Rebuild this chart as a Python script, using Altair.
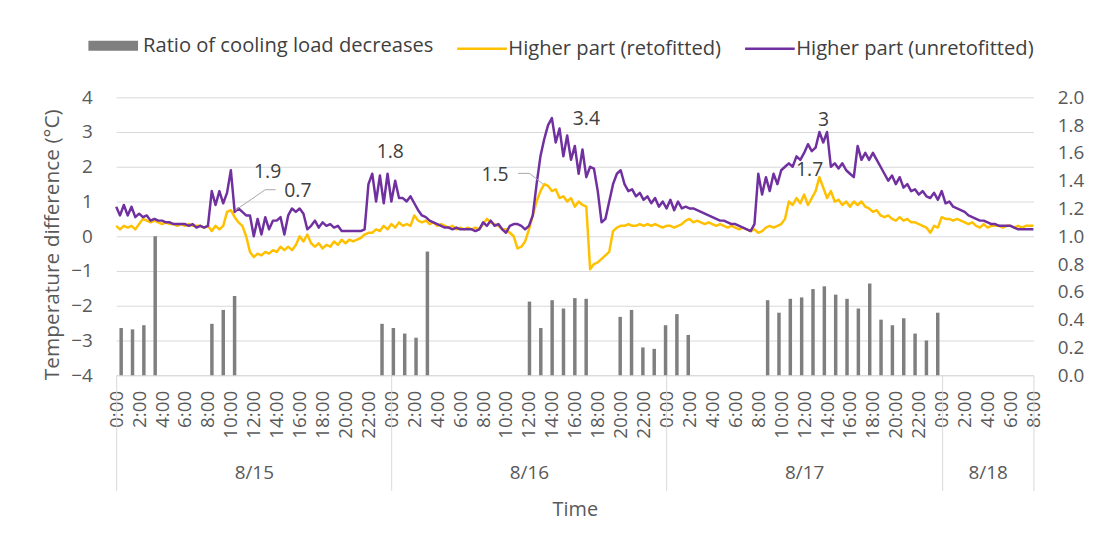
import altair as alt
import pandas as pd

# ---------------- data ----------------
SAMPLES_PER_HOUR = 3  # 20-minute readings, 8/15 0:00 .. 8/18 8:00

unretrofitted = [
    0.85, 0.6, 0.9, 0.6, 0.85, 0.55, 0.65, 0.55, 0.6, 0.45, 0.5, 0.45, 0.45, 0.4, 0.4,
    0.35, 0.35, 0.35, 0.35, 0.3, 0.35, 0.25, 0.3, 0.25, 0.3, 1.3, 0.9, 1.3, 0.95, 1.25,
    1.9, 0.7, 0.8, 0.7, 0.6, 0.6, 0.0, 0.5, 0.05, 0.55, 0.2, 0.45, 0.45, 0.55, 0.05,
    0.6, 0.8, 0.7, 0.8, 0.65, 0.2, 0.3, 0.45, 0.25, 0.4, 0.3, 0.35, 0.25, 0.3, 0.15,
    0.15, 0.15, 0.15, 0.15, 0.15, 0.2, 1.5, 1.8, 1.0, 1.75, 0.95, 1.8, 1.0, 1.6, 1.1,
    1.1, 1.0, 1.15, 0.95, 0.75, 0.6, 0.55, 0.45, 0.4, 0.35, 0.3, 0.25, 0.25, 0.2, 0.25,
    0.2, 0.2, 0.2, 0.2, 0.15, 0.2, 0.4, 0.3, 0.45, 0.3, 0.35, 0.2, 0.1, 0.3, 0.35,
    0.35, 0.3, 0.2, 0.3, 0.6, 1.5, 2.3, 2.8, 3.2, 3.4, 2.7, 3.1, 2.3, 2.9, 2.2,
    2.6, 1.8, 2.5, 1.7, 2.0, 1.95, 1.3, 0.4, 0.5, 1.0, 1.5, 1.8, 1.9, 1.5, 1.3,
    1.35, 1.15, 1.25, 1.05, 1.15, 0.95, 1.1, 0.85, 1.0, 0.8, 1.05, 0.75, 1.0, 0.8, 0.85,
    0.8, 0.8, 0.75, 0.7, 0.65, 0.6, 0.55, 0.5, 0.45, 0.45, 0.4, 0.35, 0.35, 0.3, 0.25,
    0.2, 0.15, 0.35, 1.8, 1.2, 1.7, 1.3, 1.8, 1.5, 1.9, 2.0, 2.1, 2.0, 2.3, 2.2,
    2.4, 2.65, 2.45, 2.55, 3.0, 2.7, 3.0, 2.0, 2.1, 1.95, 2.1, 1.9, 1.8, 1.7, 2.6,
    2.2, 2.4, 2.2, 2.4, 2.2, 2.0, 1.8, 1.6, 1.75, 1.5, 1.7, 1.4, 1.5, 1.3, 1.35,
    1.2, 1.3, 1.15, 1.1, 1.25, 1.05, 1.3, 0.95, 1.0, 0.85, 0.8, 0.75, 0.7, 0.6, 0.55,
    0.5, 0.45, 0.45, 0.4, 0.35, 0.35, 0.3, 0.3, 0.3, 0.3, 0.25, 0.2, 0.2, 0.2, 0.2,
    0.2,
]

retrofitted = [
    0.3, 0.2, 0.3, 0.25, 0.3, 0.2, 0.35, 0.5, 0.45, 0.4, 0.45, 0.4, 0.35, 0.4, 0.35,
    0.35, 0.3, 0.35, 0.3, 0.35, 0.3, 0.3, 0.3, 0.25, 0.3, 0.15, 0.3, 0.2, 0.3, 0.7,
    0.75, 0.55, 0.4, 0.3, 0.0, -0.45, -0.6, -0.5, -0.55, -0.45, -0.5, -0.4, -0.45, -0.3, -0.4,
    -0.3, -0.4, -0.25, 0.0, -0.15, 0.05, -0.2, -0.3, -0.2, -0.35, -0.25, -0.3, -0.15, -0.25, -0.1,
    -0.2, -0.1, -0.15, -0.1, -0.05, 0.05, 0.1, 0.1, 0.2, 0.15, 0.3, 0.2, 0.35, 0.25, 0.4,
    0.3, 0.35, 0.3, 0.6, 0.45, 0.4, 0.45, 0.35, 0.4, 0.3, 0.35, 0.3, 0.25, 0.3, 0.2,
    0.25, 0.2, 0.25, 0.2, 0.25, 0.2, 0.35, 0.5, 0.4, 0.35, 0.3, 0.2, 0.2, 0.1, 0.0,
    -0.35, -0.3, -0.15, 0.2, 0.6, 1.0, 1.3, 1.5, 1.45, 1.3, 1.35, 1.1, 1.15, 1.0, 1.1,
    0.85, 1.0, 0.9, 0.85, -0.95, -0.8, -0.75, -0.65, -0.55, -0.45, 0.15, 0.25, 0.3, 0.3, 0.35,
    0.3, 0.3, 0.35, 0.3, 0.35, 0.3, 0.35, 0.3, 0.25, 0.3, 0.3, 0.25, 0.3, 0.35, 0.45,
    0.5, 0.4, 0.45, 0.4, 0.35, 0.4, 0.35, 0.3, 0.35, 0.3, 0.25, 0.3, 0.25, 0.2, 0.25,
    0.2, 0.15, 0.2, 0.1, 0.15, 0.25, 0.3, 0.25, 0.3, 0.35, 0.5, 1.0, 0.9, 1.1, 0.95,
    1.2, 0.9, 1.1, 1.3, 1.7, 1.4, 1.1, 1.3, 1.0, 1.05, 0.9, 1.0, 0.85, 1.0, 0.9,
    1.0, 0.85, 0.8, 0.7, 0.75, 0.6, 0.55, 0.6, 0.5, 0.45, 0.55, 0.45, 0.5, 0.4, 0.4,
    0.35, 0.3, 0.25, 0.1, 0.3, 0.25, 0.55, 0.5, 0.5, 0.45, 0.5, 0.45, 0.4, 0.35, 0.4,
    0.3, 0.25, 0.35, 0.25, 0.3, 0.3, 0.3, 0.25, 0.3, 0.3, 0.25, 0.3, 0.25, 0.3, 0.3,
    0.3,
]

ratio_hours = [0, 1, 2, 3, 8, 9, 10, 23, 24, 25, 26, 27, 36, 37, 38, 39, 40, 41,
               44, 45, 46, 47, 48, 49, 50, 57, 58, 59, 60, 61, 62, 63, 64, 65,
               66, 67, 68, 69, 70, 71, 72]
ratio_values = [0.34, 0.33, 0.36, 1.0, 0.37, 0.47, 0.57, 0.37, 0.34, 0.30, 0.27, 0.89,
                0.53, 0.34, 0.54, 0.48, 0.555, 0.55, 0.42, 0.47, 0.20, 0.19, 0.36,
                0.44, 0.29, 0.54, 0.45, 0.55, 0.56, 0.62, 0.64, 0.58, 0.55, 0.48,
                0.66, 0.40, 0.36, 0.41, 0.30, 0.25, 0.45]

series_names = ["Ratio of cooling load decreases", "Higher part (retofitted)",
                "Higher part (unretofitted)"]
series_colors = ["#7f7f7f", "#ffc000", "#7030a0"]
series_widths = [10, 2.5, 2.5]

time_tick_labels = ["0:00", "2:00", "4:00", "6:00", "8:00", "10:00", "12:00",
                    "14:00", "16:00", "18:00", "20:00", "22:00"]
time_tick_hours = list(range(0, 81, 2))
date_labels = ["8/15", "8/16", "8/17", "8/18"]
date_centers = [12, 36, 60, 76]
date_bounds = [0, 24, 48, 72, 80]

temp_ticks = [-4, -3, -2, -1, 0, 1, 2, 3, 4]
ratio_ticks = [0.0, 0.2, 0.4, 0.6, 0.8, 1.0, 1.2, 1.4, 1.6, 1.8, 2.0]

ann_labels = ["1.9", "0.7", "1.8", "3.4", "1.5", "3", "1.7"]
ann_hours = [10.0, 10.3, 23.9, 37.8, 37.2, 61.6, 61.6]
ann_values = [1.94, 0.72, 1.78, 3.39, 1.51, 3.03, 1.74]
# label offsets (style), in pixels
ann_dx = [37, 64, 0, 37, -48, 1, -13]
ann_dy = [3, -20, -23, 1, -9, -11, -6]

leader_id = ["a", "a", "a", "b", "b", "b"]
leader_hours = [10.36, 13.0, 13.9, 37.2, 36.04, 35.04]
leader_values = [0.74, 1.34, 1.34, 1.51, 1.81, 1.81]

# ---------------- tables ----------------
n = len(unretrofitted)
hours = [i / SAMPLES_PER_HOUR for i in range(n)]
line_df = pd.concat([
    pd.DataFrame({"hour": hours, "value": retrofitted, "series": series_names[1]}),
    pd.DataFrame({"hour": hours, "value": unretrofitted, "series": series_names[2]}),
])
bar_df = pd.DataFrame({"hour": ratio_hours, "ratio": ratio_values,
                       "series": series_names[0]})
date_df = pd.DataFrame({"hour": date_centers, "label": date_labels})
bound_df = pd.DataFrame({"hour": date_bounds})
leader_df = pd.DataFrame({"id": leader_id, "hour": leader_hours, "value": leader_values})

FONT = "Open Sans"
TXT = "#595959"
DARK = "#404040"
GRID = "#d9d9d9"
TICK_FS = 19

xscale = alt.Scale(domain=[0, 80], nice=False, zero=False)
tscale = alt.Scale(domain=[-4, 4], nice=False)
color_scale = alt.Scale(domain=series_names, range=series_colors)
sw_scale = alt.Scale(type="ordinal", domain=series_names, range=series_widths)

time_js = "[" + ",".join("'%s'" % t for t in time_tick_labels) + "]"
date_js = "[" + ",".join("'%s'" % t for t in date_labels) + "]"
center_js = "[" + ",".join(str(c) for c in date_centers) + "]"

legend = alt.Legend(orient="none", legendX=-33, legendY=-82, direction="horizontal",
                    title=None, symbolType="stroke", symbolSize=2500,
                    labelFont=FONT, labelFontSize=20.3, labelColor=DARK, labelLimit=500,
                    labelOffset=0, columnPadding=18, symbolOpacity=1)

time_x = alt.X("hour:Q", scale=xscale, axis=alt.Axis(
    orient="bottom", values=time_tick_hours,
    labelExpr=time_js + "[(datum.value % 24) / 2]",
    labelAngle=270, labelFlush=False, labelOverlap=False, ticks=False,
    grid=False, domain=True, domainColor=GRID, labelPadding=15,
    labelFont=FONT, labelFontSize=TICK_FS, labelColor=TXT,
    title="Time", titleFont=FONT, titleFontSize=20, titleFontWeight="normal",
    titleColor=TXT, titleX=462, titleY=135, titleBaseline="middle"))
temp_y = alt.Y("value:Q", scale=tscale, axis=alt.Axis(
    orient="left", values=temp_ticks, grid=True, gridColor=GRID, ticks=False,
    domain=False, labelPadding=24, labelFont=FONT, labelFontSize=TICK_FS,
    labelColor=TXT, title="Temperature difference (°C)", titleFont=FONT,
    titleFontSize=21, titleFontWeight="normal", titleColor=TXT,
    titleX=-64, titleY=148, titleAngle=270, titleBaseline="middle",
    titleAlign="center"))

lines = alt.Chart(line_df).mark_line(strokeJoin="round").encode(
    x=time_x,
    y=temp_y,
    color=alt.Color("series:N", scale=color_scale, legend=legend),
    strokeWidth=alt.StrokeWidth("series:N", scale=sw_scale, legend=legend),
)

temp_layers = [lines]
leaders = alt.Chart(leader_df).mark_line(color="#a6a6a6", strokeWidth=1).encode(
    x=time_x, y=temp_y, detail="id:N",
)
temp_layers.append(leaders)
for lab, h, v, dx, dy in zip(ann_labels, ann_hours, ann_values, ann_dx, ann_dy):
    d = pd.DataFrame({"hour": [h], "value": [v], "label": [lab]})
    temp_layers.append(
        alt.Chart(d).mark_text(font=FONT, fontSize=19.5, color=DARK, dx=dx, dy=dy,
                               align="center", baseline="middle").encode(
            x=time_x, y=temp_y, text="label:N",
        )
    )
temp = alt.layer(*temp_layers)

bars = alt.Chart(bar_df).mark_bar(size=3.5).encode(
    x=alt.X("hour:Q", scale=xscale, axis=None),
    y=alt.Y("ratio:Q", scale=alt.Scale(domain=[0, 2], nice=False), axis=alt.Axis(
        orient="right", values=ratio_ticks, format=".1f", grid=False, ticks=False,
        domain=False, labelPadding=24, labelFont=FONT, labelFontSize=TICK_FS,
        labelColor=TXT, title=None)),
    color=alt.Color("series:N", scale=color_scale, legend=legend),
)

dates = alt.Chart(date_df).mark_point(opacity=0).encode(
    x=alt.X("hour:Q", scale=xscale, axis=alt.Axis(
        orient="bottom", values=date_centers,
        labelExpr=date_js + "[indexof(" + center_js + ", datum.value)]",
        labelAngle=0, labelFlush=False, labelOverlap=False, ticks=False, tickSize=0,
        grid=False, domain=False, labelPadding=98, labelBaseline="middle",
        labelFont=FONT, labelFontSize=TICK_FS, labelColor=TXT, title=None)),
)

bounds = alt.Chart(bound_df).mark_point(opacity=0).encode(
    x=alt.X("hour:Q", scale=xscale, axis=alt.Axis(
        orient="bottom", values=date_bounds, labels=False, ticks=True, tickSize=116,
        tickColor=GRID, tickWidth=1, grid=False, domain=False, title=None)),
)

chart = alt.layer(bars, temp, dates, bounds).resolve_scale(
    x="independent", y="independent"
).properties(
    width=924, height=280,
    autosize=alt.AutoSizeParams(type="none"),
    padding={"left": 109, "top": 88, "right": 62, "bottom": 160},
    background="white",
).configure_view(stroke=None)

chart.save("out.html", embed_options={"renderer": "svg", "actions": False})
